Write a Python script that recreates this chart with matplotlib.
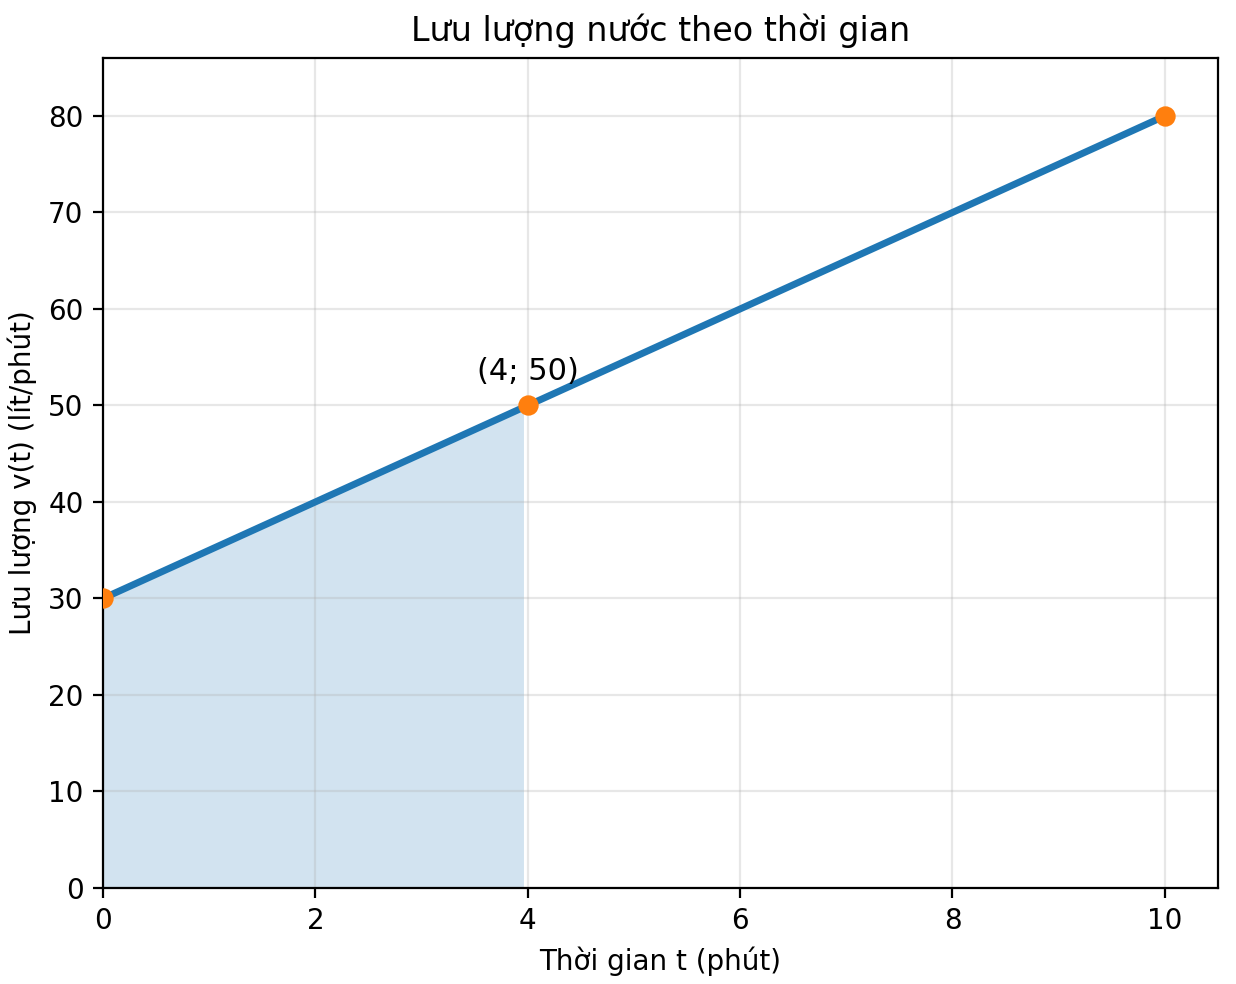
import matplotlib
matplotlib.use("Agg")
import matplotlib.pyplot as plt

# dữ liệu
t_line = [0, 10]
v_line = [30, 80]
t_pts = [0, 4, 10]
v_pts = [30, 50, 80]
t_fill = [0, 3.96]
v_fill = [30, 49.8]

fig, ax = plt.subplots(figsize=(6.18, 4.92), dpi=200)
ax.fill_between(t_fill, 0, v_fill, color="#1f77b4", alpha=0.2, linewidth=0)
ax.plot(t_line, v_line, color="#1f77b4", lw=2.5)
ax.scatter(t_pts, v_pts, color="#ff7f0e", s=40, zorder=3)
ax.annotate("(4; 50)", (4, 50), xytext=(0, 7), textcoords="offset points",
            ha="center", va="bottom", fontsize=11)

ax.set_xlim(0, 10.5)
ax.set_ylim(0, 86)
ax.grid(True, alpha=0.3)
ax.set_title("Lưu lượng nước theo thời gian", fontsize=12)
ax.set_xlabel("Thời gian t (phút)", fontsize=10)
ax.set_ylabel("Lưu lượng v(t) (lít/phút)", fontsize=10)
ax.tick_params(labelsize=10)
fig.subplots_adjust(left=0.0833, right=0.9854, top=0.941, bottom=0.0976)
fig.savefig("out.png")
